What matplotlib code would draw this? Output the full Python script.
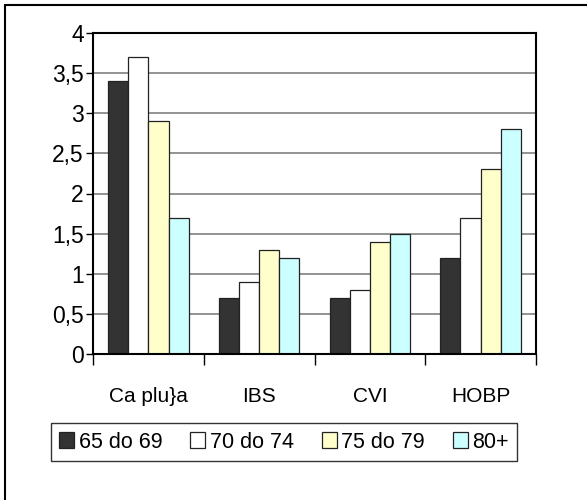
import matplotlib
matplotlib.use("Agg")
import matplotlib.pyplot as plt
from matplotlib.patches import Rectangle
import numpy as np

categories = ["Ca plu}a", "IBS", "CVI", "HOBP"]
groups = ["65 do 69", "70 do 74", "75 do 79", "80+"]
values_65_69 = [3.4, 0.7, 0.7, 1.2]
values_70_74 = [3.7, 0.9, 0.8, 1.7]
values_75_79 = [2.9, 1.3, 1.4, 2.3]
values_80 = [1.7, 1.2, 1.5, 2.8]
yticks = [0, 0.5, 1, 1.5, 2, 2.5, 3, 3.5, 4]
ylabels = ["0", "0,5", "1", "1,5", "2", "2,5", "3", "3,5", "4"]

colors = ["#333333", "#FFFFFF", "#FFFFCC", "#CCFFFF"]
series = [values_65_69, values_70_74, values_75_79, values_80]

plt.rcParams['font.family'] = ['Liberation Sans', 'DejaVu Sans']

W, H = 587, 500
fig = plt.figure(figsize=(W / 100, H / 100), dpi=100)
ax = fig.add_axes([93 / W, 1 - 354 / H, (536 - 93) / W, (354 - 33) / H])

x = np.arange(len(categories))
bw = 0.182
for i, vals in enumerate(series):
    ax.bar(x + (i - 1.5) * bw, vals, width=bw, color=colors[i],
           edgecolor="#222222", linewidth=0.9, label=groups[i], zorder=3)

ax.set_xlim(-0.5, 3.5)
ax.set_ylim(0, 4)
ax.set_yticks(yticks)
ax.set_yticklabels(ylabels, fontsize=16.5)
ax.yaxis.grid(True, color="#808080", linewidth=1.2, zorder=0)

# category ticks sit between groups, labels centred under them
ax.set_xticks([-0.5, 0.5, 1.5, 2.5, 3.5])
ax.set_xticklabels([])
ax.set_xticks(x, minor=True)
ax.set_xticklabels(categories, minor=True, fontsize=15)
ax.tick_params(axis="x", which="minor", length=0, pad=24)
ax.tick_params(axis="x", which="major", length=8, width=1, direction="out")
ax.tick_params(axis="y", length=5, width=1, direction="out", pad=1.5)

for s in ax.spines.values():
    s.set_color("black")
    s.set_linewidth(1.5)
    s.set_zorder(4)

leg = ax.legend(loc="center", bbox_to_anchor=(284 / W, 1 - 442 / H),
                bbox_transform=fig.transFigure, ncol=4, fontsize=15.5,
                frameon=True, fancybox=False, handlelength=0.7,
                handleheight=0.7, handletextpad=0.2, columnspacing=1.3,
                borderpad=0.4)
leg.get_frame().set_edgecolor("black")
leg.get_frame().set_linewidth(1.0)

# outer chart border
fig.patches.append(Rectangle((5 / W, -0.02), 1.05, 1 - 5 / H + 0.02,
                             transform=fig.transFigure, fill=False,
                             edgecolor="black", linewidth=1.5))

fig.savefig("out.png", dpi=100)
